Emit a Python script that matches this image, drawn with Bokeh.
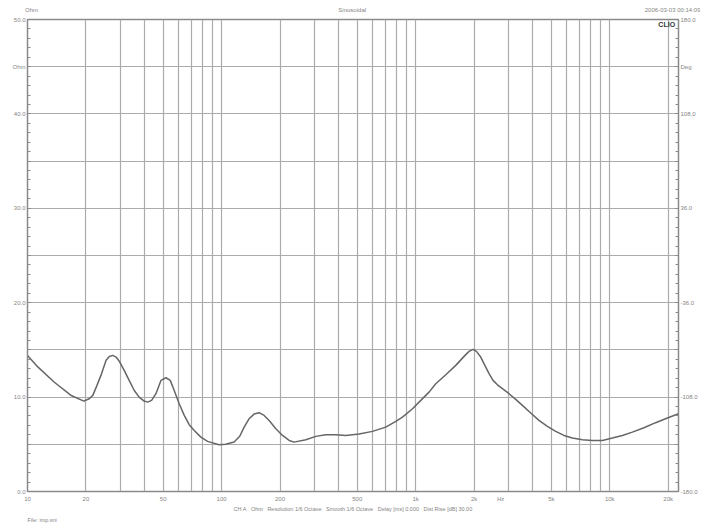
from bokeh.plotting import figure
from bokeh.models import Range1d, LinearAxis, LogAxis, FixedTicker, Label, Title
from bokeh.embed import file_html
from bokeh.resources import INLINE

# ---- data (impedance magnitude, Ohm) ----
freq_hz = [10, 11.3, 13.7, 16.7, 19.5, 20.8, 21.7, 22.8, 23.9, 25.4, 26.4, 27.5, 28.6, 29.7,
           31.5, 33.4, 35.5, 37.6, 39.9, 41.6, 43.6, 45.9, 48.7, 51.7, 54.4, 57, 60.5,
           64.2, 68.1, 72.3, 78.2, 84.7, 97, 105, 116, 124, 130.7, 138.7, 147, 156,
           165.7, 175.8, 190.4, 206, 222.9, 236.5, 271.7, 305.9, 344, 387.8, 436.5,
           511, 599, 701, 790, 855, 963, 1041, 1172, 1269, 1429, 1609, 1811, 1884,
           1975, 2056, 2163, 2296, 2388, 2504, 2637, 2799, 3027, 3276, 3548, 3914,
           4317, 4771, 5266, 5808, 6417, 7226, 8130, 9162, 10310, 11610, 13070, 15000,
           17230, 19800, 22600]
impedance_ohm = [14.42, 13.2, 11.6, 10.2, 9.58, 9.83, 10.18, 11.24, 12.3, 13.9, 14.3, 14.42, 14.24, 13.8,
                 12.83, 11.77, 10.7, 10.0, 9.58, 9.47, 9.65, 10.36, 11.77, 12.05, 11.77, 10.7, 9.3,
                 8.06, 7.08, 6.47, 5.76, 5.31, 4.96, 5.0, 5.25, 5.85, 6.82, 7.71, 8.2, 8.35,
                 8.06, 7.53, 6.65, 5.94, 5.41, 5.23, 5.49, 5.84, 6.02, 6.02, 5.94,
                 6.09, 6.37, 6.82, 7.43, 7.88, 8.77, 9.47, 10.53, 11.42, 12.37, 13.36, 14.5, 14.84,
                 15.05, 14.84, 14.24, 13.18, 12.48, 11.77, 11.3, 10.89, 10.36, 9.76, 9.12, 8.31,
                 7.53, 6.9, 6.37, 5.94, 5.66, 5.49, 5.41, 5.41, 5.66, 5.94, 6.29, 6.76,
                 7.29, 7.78, 8.24]

x_tick_values = [10, 20, 50, 100, 200, 500, 1000, 2000, 2740, 5000, 10000, 20000]
x_tick_labels = ["10", "20", "50", "100", "200", "500", "1k", "2k", "Hz", "5k", "10k", "20k"]
x_grid_values = [20, 30, 40, 50, 60, 70, 80, 90, 100, 200, 300, 400, 500, 600, 700, 800, 900,
                 1000, 2000, 3000, 4000, 5000, 6000, 7000, 8000, 9000, 10000, 20000]

ohm_tick_values = [0, 5, 10, 15, 20, 25, 30, 35, 40, 45, 50]
ohm_tick_labels = ["0.0", "", "10.0", "", "20.0", "", "30.0", "", "40.0", "Ohm", "50.0"]

deg_tick_values = [-180, -144, -108, -72, -36, 0, 36, 72, 108, 144, 180]
deg_tick_labels = ["-180.0", "", "-108.0", "", "-36.0", "", "36.0", "", "108.0", "Deg", "180.0"]

header_positions = [10.49, 471, 21170]
header_texts = ["Ohm", "Sinusoidal", "2006-03-03 00:14:09"]

info_parts = ["CH A", "Ohm", "Resolution 1/6 Octave", "Smooth 1/6 Octave",
              "Delay [ms] 0.000", "Dist Rise [dB] 30.00"]
file_text = "File: imp.sni"

TXT = "#858585"
GRID = "#ababab"
AXC = "#8a8a8a"
FONT = "Liberation Sans"
SEP = "\u00a0\u00a0\u00a0"

p = figure(width=700, height=528, x_axis_type="log",
           x_range=Range1d(10, 22600), y_range=Range1d(0, 50),
           output_backend="svg", toolbar_location=None, title=None,
           min_border_left=27, min_border_right=22, min_border_top=19, min_border_bottom=37)
p.background_fill_color = "white"
p.border_fill_color = "white"
p.outline_line_color = AXC
p.outline_line_width = 1.5

# grids
p.xgrid.ticker = FixedTicker(ticks=x_grid_values)
p.ygrid.ticker = FixedTicker(ticks=ohm_tick_values)
p.xgrid.grid_line_color = GRID
p.ygrid.grid_line_color = GRID
p.xgrid.grid_line_width = 1.2
p.ygrid.grid_line_width = 1.2

# bottom axis
xa = p.xaxis[0]
xa.ticker = FixedTicker(ticks=x_tick_values)
xa.major_label_overrides = {v: s for v, s in zip(x_tick_values, x_tick_labels)}
xa.major_tick_line_color = None
xa.minor_tick_line_color = None
xa.major_tick_out = 0
xa.major_tick_in = 0
xa.minor_tick_out = 0
xa.minor_tick_in = 0
xa.axis_line_color = AXC
xa.major_label_text_font_size = "6px"
xa.major_label_text_color = TXT
xa.major_label_text_font = FONT
xa.major_label_standoff = 4
xa.axis_label = SEP.join(info_parts)
xa.axis_label_text_font_size = "5.5px"
xa.axis_label_text_font_style = "normal"
xa.axis_label_text_color = TXT
xa.axis_label_text_font = FONT
xa.axis_label_standoff = 1

# header line drawn as an (invisible) axis above the frame
ta = LogAxis(ticker=FixedTicker(ticks=header_positions))
ta.major_label_overrides = {v: s for v, s in zip(header_positions, header_texts)}
ta.axis_line_color = None
ta.major_tick_line_color = None
ta.minor_tick_line_color = None
ta.major_tick_out = 0
ta.major_tick_in = 0
ta.minor_tick_out = 0
ta.minor_tick_in = 0
ta.major_label_text_font_size = "6px"
ta.major_label_text_color = TXT
ta.major_label_text_font = FONT
ta.major_label_standoff = 7
p.add_layout(ta, "above")

# left axis
ya = p.yaxis[0]
ya.ticker = FixedTicker(ticks=ohm_tick_values, minor_ticks=list(range(0, 51)))
ya.major_label_overrides = {v: s for v, s in zip(ohm_tick_values, ohm_tick_labels)}
ya.axis_line_color = AXC
ya.major_tick_in = 3
ya.major_tick_out = 0
ya.minor_tick_in = 3
ya.minor_tick_out = 0
ya.major_tick_line_color = AXC
ya.minor_tick_line_color = AXC
ya.major_label_text_font_size = "6px"
ya.major_label_text_color = TXT
ya.major_label_text_font = FONT
ya.major_label_standoff = 2

# right phase axis
p.extra_y_ranges = {"phase": Range1d(-180, 180)}
ra = LinearAxis(y_range_name="phase",
                ticker=FixedTicker(ticks=deg_tick_values,
                                   minor_ticks=[-180 + 7.2 * i for i in range(51)]))
ra.major_label_overrides = {v: s for v, s in zip(deg_tick_values, deg_tick_labels)}
ra.axis_line_color = AXC
ra.major_tick_in = 3
ra.major_tick_out = 0
ra.minor_tick_in = 3
ra.minor_tick_out = 0
ra.major_tick_line_color = AXC
ra.minor_tick_line_color = AXC
ra.major_label_text_font_size = "6px"
ra.major_label_text_color = TXT
ra.major_label_text_font = FONT
ra.major_label_standoff = 2
p.add_layout(ra, "right")

# footer file name
ft = Title(text=file_text, align="left", text_font_size="5.5px", text_color=TXT,
           text_font=FONT, text_font_style="normal", standoff=0, offset=0)
p.add_layout(ft, "below")

# impedance curve
p.line(freq_hz, impedance_ohm, line_color="#666666", line_width=1.5)

# CLIO mark inside the frame
p.add_layout(Label(x=21700, y=49.45, text="CLIO", text_align="right", text_baseline="middle",
                   text_font=FONT, text_font_size="7px", text_color="#333333",
                   text_font_style="bold"))

open("out.html", "w").write(file_html(p, INLINE))
